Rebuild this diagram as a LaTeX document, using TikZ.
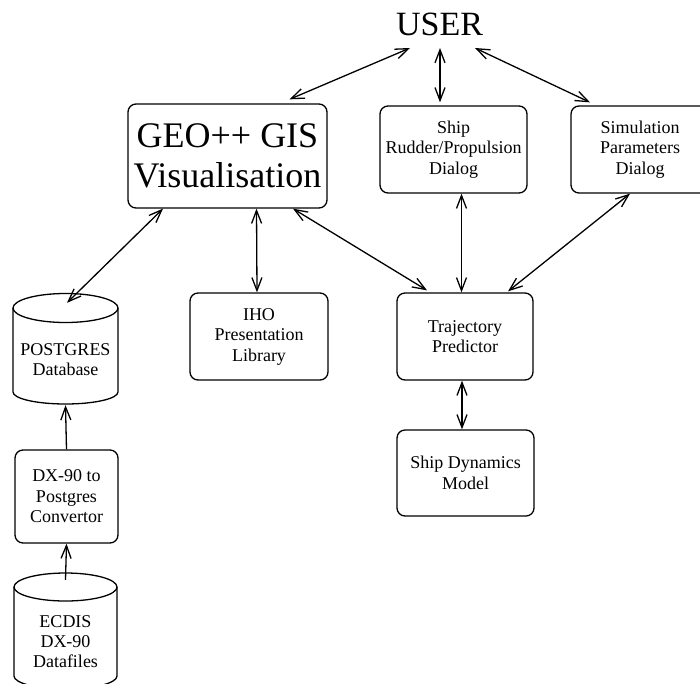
\documentclass[tikz,border=0pt]{standalone}
\usepackage{fontspec}
\setmainfont{Liberation Serif}
\usetikzlibrary{arrows.meta}
\begin{document}
\begin{tikzpicture}[x=1pt,y=1pt,
  box/.style={draw, line width=1.3pt, rounded corners=8pt, align=center, inner sep=0pt,
    font=\fontsize{18}{20.5}\selectfont},
  txt/.style={align=center, inner sep=0pt, font=\fontsize{18}{20}\selectfont},
  ghost/.style={inner sep=0pt},
  link/.style={line width=1.3pt, {Straight Barb[length=13pt,width=10pt]}-{Straight Barb[length=13pt,width=10pt]}},
  feed/.style={line width=1.3pt, -{Straight Barb[length=13pt,width=10pt]}},
  cyl/.style={line width=1.3pt}
]
\useasboundingbox (0,0) rectangle (700,-683);

% top
\node[inner sep=0pt, font=\fontsize{34}{36}\selectfont] (user) at (439.5,-24) {USER};
\node[box, minimum width=199pt, minimum height=104pt, font=\fontsize{36}{40}\selectfont] (geo) at (227.5,-156) {GEO++ GIS\\Visualisation};
\node[box, minimum width=147pt, minimum height=87pt] (ship) at (453.5,-149.5) {Ship\\Rudder/Propulsion\\Dialog};
\node[box, minimum width=138pt, minimum height=87pt] (sim) at (640,-149.5) {Simulation\\Parameters\\Dialog};

% middle
\node[box, minimum width=138pt, minimum height=87pt] (iho) at (259,-336.5) {IHO\\Presentation\\Library};
\node[box, minimum width=136pt, minimum height=87pt] (traj) at (465,-336.5) {Trajectory\\Predictor};
\node[box, minimum width=137pt, minimum height=86pt] (dyn) at (465.5,-473) {Ship Dynamics\\Model};

% left column
\node[ghost, minimum width=105pt, minimum height=112pt] (pg) at (65.5,-349) {};
\draw[cyl] (65.5,-308) ellipse [x radius=52.5pt, y radius=14.5pt];
\draw[cyl] (13,-308) -- (13,-392) arc[start angle=180, end angle=360, x radius=52.5pt, y radius=12pt] -- (118,-308);
\node[txt] (pgtext) at (65.5,-360) {POSTGRES\\Database};

\node[box, minimum width=103pt, minimum height=93pt] (dx) at (66.5,-496.5) {DX-90 to\\Postgres\\Convertor};

\node[ghost, minimum width=103pt, minimum height=117pt] (ecd) at (65.5,-631.5) {};
\draw[cyl] (65.5,-587) ellipse [x radius=51.5pt, y radius=14pt];
\draw[cyl] (14,-587) -- (14,-676) arc[start angle=180, end angle=360, x radius=51.5pt, y radius=13pt] -- (117,-587);
\node[txt] (ecdtext) at (65.5,-642) {ECDIS\\DX-90\\Datafiles};

% connectors
\draw[link] ([xshift=-29.5pt,yshift=-24pt]user.center) -- ([xshift=62pt,yshift=4pt]geo.north);
\draw[link] ([xshift=0.5pt,yshift=-24pt]user.center) -- ([xshift=-13.5pt,yshift=3pt]ship.north);
\draw[link] ([xshift=35.5pt,yshift=-24pt]user.center) -- ([xshift=-50pt,yshift=3pt]sim.north);

\draw[link] ([xshift=-64.5pt]geo.south) -- ([xshift=1.5pt,yshift=-10pt]pg.north);
\draw[link] ([xshift=29pt]geo.south) -- ([xshift=-2pt]iho.north);
\draw[link] ([xshift=65.5pt]geo.south) -- ([xshift=-38pt,yshift=2pt]traj.north);
\draw[link] ([xshift=8pt]ship.south) -- ([xshift=-3.5pt]traj.north);
\draw[link] ([xshift=-10pt]sim.south) -- ([xshift=43pt,yshift=1pt]traj.north);
\draw[link] ([xshift=-3pt]traj.south) -- ([xshift=-3.5pt]dyn.north);

\draw[feed] (dx.north) -- (pg.south);
\draw[feed] ([yshift=-7pt]ecd.north) -- (dx.south);
\end{tikzpicture}
\end{document}
